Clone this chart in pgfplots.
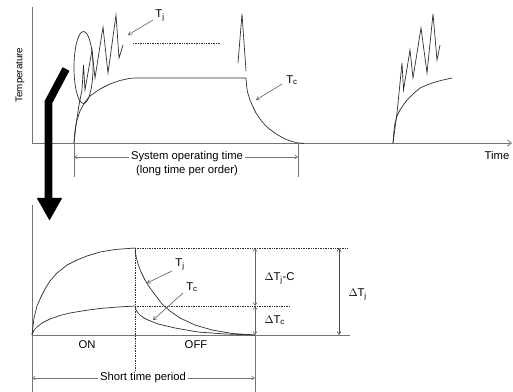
\documentclass[border=0pt]{standalone}
\usepackage{pgfplots}
\pgfplotsset{compat=1.18}
\usepackage{fontspec}
\setmainfont{Liberation Sans}
\usetikzlibrary{arrows.meta}
\pgfplotsset{curve/.style={black!82, line width=0.7pt, mark=none, solid}}
\begin{document}
\begin{tikzpicture}
\begin{axis}[
  scale only axis, width=513bp, height=392bp,
  xmin=0, xmax=513, ymin=0, ymax=392, y dir=reverse,
  hide axis, clip=false, enlargelimits=false,
  font=\fontsize{11.3}{13}\selectfont,
]
% ---- top axes
\addplot[black!55, line width=0.8pt] coordinates {(32,7) (32,143)};
\addplot[black!55, line width=0.8pt, -{Straight Barb[length=4pt,width=6pt]}] coordinates {(32,143) (512,143)};
% top Tc
\addplot[curve] coordinates {(74,143)(74.5,135)(75.5,127)(77,120)(80,111)(85,102)(90,96)(100,89)(110,84)(120,80.5)(130,78.3)(135,78)(246,78)(246.5,85)(247.5,92)(250,100)(253,107)(256,113)(260,119)(265,125)(270,129.5)(277,134.5)(285,139)(292,141.5)(298,143)(304,143.3)};
% top Tj
\addplot[curve] coordinates {(74,143)(76,125)(79,105)(82,90)(83.5,65)(85,90)(92,50)(95,78)(103,27)(108,73)(116,15)(119,58)(123,45)};
% spike
\addplot[curve] coordinates {(238,63)(242,14)(246,71)};
% right burst
\addplot[curve] coordinates {(393,143)(397,113)(402,63)(403.5,90)(410,50)(413,78)(421,28)(427,73)(433,14)(437,60)(440,45)};
\addplot[curve] coordinates {(393,143)(394,130)(395,123)(397,116)(400,110)(404,104)(407,100)(413,94)(420,88)(428,84.5)(437,81.5)(445,79.5)(452,78)};
% dotted continuation
\addplot[curve, densely dotted, line width=0.9pt] coordinates {(133,43)(220,43)};
% ellipse
\draw[black!82, line width=0.7pt] (axis cs:83.5,67.5) ellipse [x radius=9.5bp, y radius=36bp];
% labels top
\node at (axis cs:160,15) {T\textsubscript{j}};
\addplot[black!65, line width=0.6pt, -{Straight Barb[length=3pt,width=4pt]}] coordinates {(153,20)(128,35)};
\node at (axis cs:292,80) {T\textsubscript{c}};
\addplot[black!65, line width=0.6pt, -{Straight Barb[length=3pt,width=4pt]}] coordinates {(282,84)(256,100)};
\node at (axis cs:497,155) {Time};
\node[rotate=90, font=\fontsize{9.8}{11}\selectfont] at (axis cs:20,75) {Temperature};
% system operating time
\addplot[black!55, line width=0.6pt] coordinates {(74,143)(74,177)};
\addplot[black!55, line width=0.6pt] coordinates {(298,143)(298,177)};
\addplot[black!55, line width=0.6pt, {Straight Barb[length=3pt,width=4pt]}-{Straight Barb[length=3pt,width=4pt]}] coordinates {(74,157)(298,157)};
\node[fill=white, inner sep=2pt] at (axis cs:187,157) {System operating time};
\node at (axis cs:187,170.5) {(long time per order)};
% big arrow
\addplot[black, line width=7.7bp, line join=miter] coordinates {(66,69)(48.5,102)(48.5,199)};
\addplot[black, fill=black, line width=0.3pt] coordinates {(37,198)(62,198)(49.5,220)} -- cycle;
% ---- bottom axes
\addplot[black!55, line width=0.8pt] coordinates {(32,205) (32,392)};
\addplot[black!55, line width=0.8pt] coordinates {(32,335) (350,335)};
% bottom Tj
\addplot[curve] coordinates {(32,335)(34,318)(37,306)(40,299)(45,289)(50,281)(57,273)(67,265)(77,260)(87,256)(100,252)(115,249.5)(135,248)};
\addplot[curve] coordinates {(135,248)(136,256)(138,264)(141,272)(145,280)(150,288)(156,296)(162,304)(170,311)(180,318)(195,325)(212,330)(232,333.5)(255,335)};
% bottom Tc
\addplot[curve] coordinates {(32,335)(34,330)(37,327)(42,323)(50,319)(60,315.5)(70,313)(85,310.5)(100,308.5)(118,307)(135,306)};
\addplot[curve] coordinates {(135,306)(136,310)(138,313)(140,315)(144,318)(148,320)(158,324)(175,328)(198,332)(225,334)(255,335)};
% dotted guides
\addplot[curve, densely dotted, line width=0.8pt] coordinates {(135,248)(135,372)};
\addplot[curve, densely dotted, line width=0.8pt] coordinates {(135,248)(348,248)};
\addplot[curve, densely dotted, line width=0.8pt] coordinates {(135,306)(290,306)};
% right verticals and dims
\addplot[black!55, line width=0.7pt] coordinates {(255,335)(255,392)};
\addplot[black!60, line width=0.6pt, {Straight Barb[length=3pt,width=4pt]}-{Straight Barb[length=3pt,width=4pt]}] coordinates {(255,248)(255,306)};
\addplot[black!60, line width=0.6pt, {Straight Barb[length=3pt,width=4pt]}-{Straight Barb[length=3pt,width=4pt]}] coordinates {(255,306)(255,335)};
\addplot[black!70, line width=0.6pt, {Straight Barb[length=3pt,width=4pt]}-{Straight Barb[length=3pt,width=4pt]}] coordinates {(339,248)(339,335)};
\node[anchor=west] at (axis cs:261,278) {$\Delta$T\textsubscript{j}-C};
\node[anchor=west] at (axis cs:261,320) {$\Delta$T\textsubscript{c}};
\node[anchor=west] at (axis cs:345,294) {$\Delta$T\textsubscript{j}};
% labels bottom
\node at (axis cs:180,264) {T\textsubscript{j}};
\addplot[black!65, line width=0.6pt, -{Straight Barb[length=3pt,width=4pt]}] coordinates {(172,271)(147,283)};
\node at (axis cs:192,287) {T\textsubscript{c}};
\addplot[black!65, line width=0.6pt, -{Straight Barb[length=3pt,width=4pt]}] coordinates {(183,293)(153,320)};
\node at (axis cs:87,345) {ON};
\node at (axis cs:196,345) {OFF};
\addplot[black!55, line width=0.6pt, {Straight Barb[length=3pt,width=4pt]}-{Straight Barb[length=3pt,width=4pt]}] coordinates {(32,378)(255,378)};
\node[fill=white, inner sep=2pt] at (axis cs:143,378) {Short time period};
\end{axis}
\pgfresetboundingbox
\path (current axis.south west) rectangle (current axis.north east);
\end{tikzpicture}
\end{document}
